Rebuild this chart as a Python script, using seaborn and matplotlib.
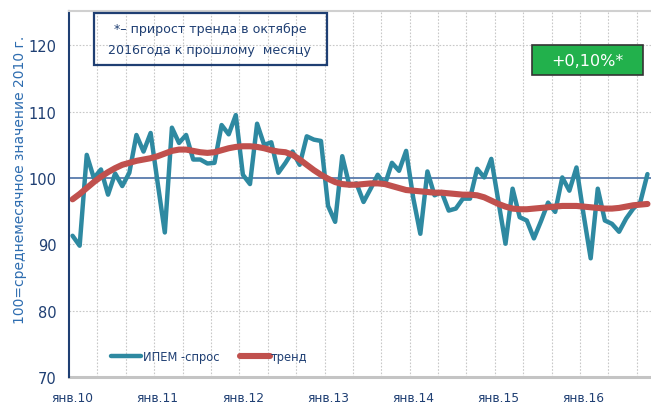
import numpy as np
import pandas as pd
import matplotlib
matplotlib.use("Agg")
import matplotlib.pyplot as plt
from matplotlib.patches import Rectangle
import seaborn as sns

# monthly index, Jan 2010 .. Oct 2016
demand = [91.3, 89.8, 103.5, 100.0, 101.3, 97.5, 100.7, 98.8, 100.8, 106.5, 104.0, 106.8,
          99.2, 91.8, 107.6, 105.3, 106.5, 102.8, 102.8, 102.2, 102.3, 108.0, 106.6, 109.5,
          100.5, 99.1, 108.2, 105.0, 105.4, 100.8, 102.3, 104.0, 102.0, 106.3, 105.8, 105.6,
          95.8, 93.4, 103.3, 98.9, 99.2, 96.4, 98.4, 100.5, 99.0, 102.3, 101.1, 104.1,
          97.0, 91.6, 101.0, 97.4, 97.9, 95.1, 95.4, 96.9, 96.9, 101.4, 100.1, 102.9,
          96.5, 90.1, 98.4, 94.1, 93.6, 90.9, 93.5, 96.3, 94.9, 100.1, 98.1, 101.6,
          94.5, 87.9, 98.4, 93.6, 93.1, 91.9, 93.9, 95.4, 96.4, 100.6]
trend = [96.8, 97.6, 98.5, 99.4, 100.2, 100.9, 101.5, 102.0, 102.3, 102.6, 102.8, 103.0,
         103.3, 103.7, 104.1, 104.3, 104.3, 104.1, 103.9, 103.8, 103.9, 104.2, 104.5, 104.7,
         104.8, 104.8, 104.7, 104.5, 104.2, 104.0, 103.9, 103.5, 102.8, 102.0, 101.2, 100.5,
         99.9, 99.4, 99.1, 99.0, 99.0, 99.1, 99.2, 99.2, 99.1, 98.8, 98.5, 98.2,
         98.1, 98.0, 97.9, 97.8, 97.8, 97.7, 97.6, 97.5, 97.5, 97.4, 97.1, 96.6,
         96.1, 95.7, 95.4, 95.3, 95.3, 95.4, 95.5, 95.6, 95.7, 95.8, 95.8, 95.8,
         95.7, 95.6, 95.5, 95.4, 95.4, 95.5, 95.7, 95.9, 96.0, 96.1]
year_labels = ["янв.10", "янв.11", "янв.12", "янв.13", "янв.14", "янв.15", "янв.16"]
y_ticks = [70, 80, 90, 100, 110, 120]

note_text = "*– прирост тренда в октябре\n2016года к прошлому  месяцу"
badge_text = "+0,10%*"

df = pd.DataFrame({"month": np.arange(len(demand)), "ИПЕМ -спрос": demand, "тренд": trend})

sns.set_style("white")
plt.rcParams["font.family"] = ["DejaVu Sans"]

navy = "#1f3f73"
teal = "#2e89a1"
red = "#c0504d"

fig = plt.figure(figsize=(6.51, 4.06), dpi=100)
ax = fig.add_axes([69 / 651, 28 / 406, 582 / 651, 366 / 406])

sns.lineplot(data=df, x="month", y="ИПЕМ -спрос", color=teal, lw=3.2, ax=ax,
             label="ИПЕМ -спрос", solid_capstyle="round", solid_joinstyle="round")
sns.lineplot(data=df, x="month", y="тренд", color=red, lw=4.4, ax=ax,
             label="тренд", solid_capstyle="round")

n = len(demand)
ax.set_xlim(-0.5, n - 0.5)
ax.set_ylim(70, 125.2)

# grid
grid_x = np.arange(-0.5, n, 4)
for gx in grid_x[1:]:
    ax.axvline(gx, color="#c8c8c8", lw=0.8, ls=(0, (1.5, 1.5)), zorder=0)
for gy in y_ticks:
    if gy not in (70, 100):
        ax.axhline(gy, color="#c8c8c8", lw=0.8, ls=(0, (1.5, 1.5)), zorder=0)

# x axis line crossing at 100 with tick marks
ax.spines["bottom"].set_position(("data", 100))
ax.spines["bottom"].set_color("#4a6fa5")
ax.spines["bottom"].set_linewidth(1.2)
ax.spines["bottom"].set_zorder(1)
ax.set_xticks(grid_x)
ax.tick_params(axis="x", direction="inout", length=7, width=1.2, color=navy,
               labelbottom=False)

# bottom labels via secondary axis at y = 70
sec = ax.secondary_xaxis(0)
sec.set_xticks(np.arange(0, n, 12))
sec.set_xticklabels(year_labels)
sec.tick_params(length=0, pad=10, labelsize=8.8, labelcolor=navy)
sec.spines["bottom"].set_color("#c4c4c4")
sec.spines["bottom"].set_linewidth(2.2)

ax.spines["left"].set_color(navy)
ax.spines["left"].set_linewidth(1.5)
ax.spines["top"].set_color("#d0d0d0")
ax.spines["top"].set_linewidth(1.5)
ax.spines["right"].set_visible(False)
ax.set_yticks(y_ticks)
ax.tick_params(axis="y", direction="inout", length=10, width=1.5, color=navy,
               labelsize=10.5, labelcolor=navy, pad=4)
ax.set_xlabel("")
ax.set_ylabel("100=среднемесячное значение 2010 г.", fontsize=10, color="#2e6db0")
ax.yaxis.set_label_coords(-0.072, 0.54)

leg = ax.legend(loc="lower left", bbox_to_anchor=(0.055, 0.01), ncol=2, frameon=False,
                fontsize=8.3, handlelength=2.6, columnspacing=1.8, handletextpad=0.1)
for t in leg.get_texts():
    t.set_color(navy)

# note box
ax.add_patch(Rectangle((94 / 651, 340 / 406), 233 / 651, 52 / 406, transform=fig.transFigure,
                       fill=False, edgecolor=navy, lw=1.6, clip_on=False, zorder=5))
fig.text(210 / 651, 366 / 406, note_text, ha="center", va="center", fontsize=9.1,
         color=navy, linespacing=1.75)

# green badge
fig.patches.append(Rectangle((532 / 651, 330 / 406), 111 / 651, 30 / 406,
                             transform=fig.transFigure, facecolor="#22b14c",
                             edgecolor="#333333", lw=1.2, zorder=5))
fig.text(587 / 651, 345 / 406, badge_text, ha="center", va="center", fontsize=11.5,
         color="white", zorder=6)

fig.savefig("out.png", dpi=100)
